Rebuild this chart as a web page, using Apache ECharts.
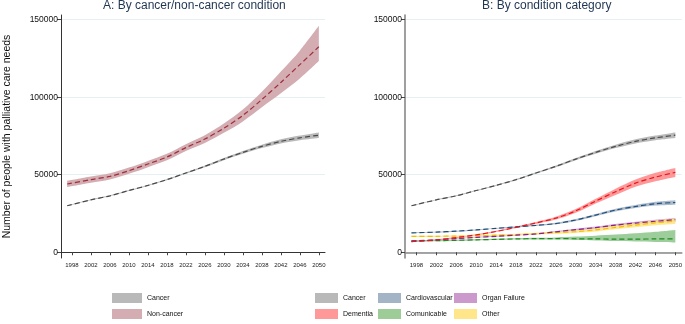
<!DOCTYPE html>
<html>
<head>
<meta charset="utf-8">
<script src="https://cdn.jsdelivr.net/npm/echarts@6/dist/echarts.min.js"></script>
<style>
  html, body { margin: 0; padding: 0; background: #fff; }
  #chart { width: 685px; height: 324px; }
</style>
</head>
<body>
<div id="chart"></div>
<script>
const years = [1997, 2002, 2006, 2010, 2014, 2018, 2022, 2026, 2030, 2034, 2038, 2042, 2046, 2050]
const tickYears = [1998, 2002, 2006, 2010, 2014, 2018, 2022, 2026, 2030, 2034, 2038, 2042, 2046, 2050]
const tickValues = [0, 50000, 100000, 150000]

const cancerMid = [30000, 33800, 36400, 39800, 43100, 46800, 51100, 55400, 60100, 64400, 68300, 71500, 73800, 75500]
const cancerLo  = [29700, 33500, 36100, 39500, 42800, 46400, 50600, 54800, 59400, 63500, 67200, 70200, 72300, 73700]
const cancerHi  = [30300, 34100, 36700, 40100, 43400, 47200, 51600, 56000, 60800, 65300, 69400, 72800, 75300, 77300]

const nonCancerMid = [44000, 46800, 48900, 52600, 56900, 61400, 67500, 73000, 80000, 88200, 98500, 109500, 121000, 132500]
const nonCancerLo  = [42000, 44800, 46900, 50600, 54900, 59300, 65300, 70500, 77000, 84400, 93500, 102500, 112000, 123300]
const nonCancerHi  = [46000, 48800, 50900, 54600, 58900, 63500, 69700, 75500, 83000, 92000, 103500, 116500, 130000, 146000]

const dementiaMid = [6900, 8000, 9500, 11200, 13400, 16100, 18900, 22000, 26700, 33000, 39000, 44600, 48500, 51500]
const dementiaLo  = [6500, 7600, 9100, 10800, 13000, 15600, 18300, 21100, 25500, 31500, 37000, 42300, 45800, 48600]
const dementiaHi  = [7300, 8400, 9900, 11600, 13800, 16600, 19500, 22900, 27900, 34500, 41000, 46900, 51200, 54400]

const cardioMid = [12500, 13000, 13600, 14400, 15400, 16400, 17300, 18500, 20800, 24000, 27200, 29500, 31300, 32100]
const cardioLo  = [12200, 12700, 13300, 14100, 15100, 16000, 16900, 18000, 20200, 23300, 26300, 28500, 30100, 30700]
const cardioHi  = [12800, 13300, 13900, 14700, 15700, 16800, 17700, 19000, 21400, 24700, 28100, 30500, 32500, 33500]

const commMid = [7300, 7500, 7700, 8000, 8300, 8600, 8800, 8800, 8700, 8600, 8500, 8500, 8600, 8700]
const commLo  = [6900, 7100, 7300, 7600, 7900, 8200, 8300, 8200, 7900, 7600, 7200, 6900, 6600, 6300]
const commHi  = [7700, 7900, 8100, 8400, 8700, 9000, 9300, 9600, 10100, 10700, 11400, 12200, 13200, 14400]

const organMid = [7200, 8000, 8800, 9600, 10300, 11000, 11800, 13200, 14600, 15900, 17500, 18800, 20000, 21000]
const organLo  = [6900, 7700, 8500, 9300, 10000, 10700, 11400, 12700, 14000, 15200, 16700, 17900, 19000, 19900]
const organHi  = [7500, 8300, 9100, 9900, 10600, 11300, 12200, 13700, 15200, 16600, 18300, 19700, 21000, 22100]

const otherMid = [10200, 10300, 10400, 10600, 11000, 11400, 12000, 12600, 13300, 14400, 16000, 17500, 19000, 20000]
const otherLo  = [9800, 9900, 10000, 10200, 10500, 10900, 11400, 11900, 12500, 13400, 14800, 16100, 17400, 18200]
const otherHi  = [10600, 10700, 10800, 11000, 11500, 11900, 12600, 13300, 14100, 15400, 17200, 18900, 20600, 21800]

const FONT = 'Liberation Sans, Arial, sans-serif'
const SMOOTH = 0.3

function pairs(vals) {
  return vals.map((v, i) => [years[i], v])
}

// same bezier rule as the line series' smooth option, so band edges follow the dashed lines
function smoothD(pts, start) {
  const n = pts.length
  const cpIn = [], cpOut = []
  for (let i = 0; i < n; i++) {
    const p = pts[i]
    if (i === 0 || i === n - 1) { cpIn[i] = p; cpOut[i] = p; continue }
    const prev = pts[i - 1], next = pts[i + 1]
    const vx = next[0] - prev[0], vy = next[1] - prev[1]
    const l0 = Math.hypot(p[0] - prev[0], p[1] - prev[1])
    const l1 = Math.hypot(next[0] - p[0], next[1] - p[1])
    const r = l1 / (l0 + l1)
    cpOut[i] = [p[0] + vx * SMOOTH * r, p[1] + vy * SMOOTH * r]
    cpIn[i] = [p[0] - vx * SMOOTH * (1 - r), p[1] - vy * SMOOTH * (1 - r)]
  }
  const xy = q => q[0].toFixed(2) + ' ' + q[1].toFixed(2)
  let d = start + ' ' + xy(pts[0])
  for (let i = 0; i < n - 1; i++) {
    d += ' C ' + xy(cpOut[i]) + ' ' + xy(cpIn[i + 1]) + ' ' + xy(pts[i + 1])
  }
  return d
}

function band(name, grid, lo, hi, color, opacity) {
  return {
    name: name, type: 'custom', xAxisIndex: grid, yAxisIndex: grid, silent: true,
    data: [[years[0], lo[0]]],
    renderItem: function (params, api) {
      const upper = years.map((y, i) => api.coord([y, hi[i]]))
      const lower = years.map((y, i) => api.coord([y, lo[i]])).reverse()
      return {
        type: 'path',
        shape: {pathData: smoothD(upper, 'M') + ' ' + smoothD(lower, 'L') + ' Z'},
        style: {fill: color, opacity: opacity}
      }
    }
  }
}

function midLine(name, grid, mid, color) {
  return {
    name: name + ' estimate', type: 'line', xAxisIndex: grid, yAxisIndex: grid,
    data: pairs(mid), symbol: 'none', smooth: SMOOTH, silent: true,
    lineStyle: {color: color, width: 1.2, type: [5, 3]}
  }
}

function xAxisFor(grid, lineColor, lineWidth) {
  return {
    type: 'value', gridIndex: grid, min: 1995.7, max: 2051.3,
    axisLine: {show: true, lineStyle: {color: lineColor, width: lineWidth}},
    axisTick: {show: true, customValues: tickYears, length: 3, lineStyle: {color: '#444'}},
    axisLabel: {customValues: tickYears, formatter: v => String(v), fontSize: 6, color: '#222', margin: 4, fontFamily: FONT},
    splitLine: {show: false}
  }
}

function yAxisFor(grid, lineColor, lineWidth) {
  return {
    type: 'value', gridIndex: grid, min: -3700, max: 153000,
    axisLine: {show: true, lineStyle: {color: lineColor, width: lineWidth}},
    axisTick: {show: true, customValues: tickValues, length: 4, lineStyle: {color: '#444'}},
    axisLabel: {customValues: tickValues, formatter: v => String(v), fontSize: 8.5, color: '#111', margin: 3, fontFamily: FONT},
    splitLine: {show: true, lineStyle: {color: '#e6eff2', width: 1}}
  }
}

const yA = yAxisFor(0, '#333', 1)
yA.name = 'Number of people with palliative care needs'
yA.nameLocation = 'middle'
yA.nameGap = 48
yA.nameRotate = 90
yA.nameTextStyle = {fontSize: 10.5, color: '#111', fontFamily: FONT}

function legendCol(left, items, w) {
  return {
    orient: 'vertical', left: left, top: 293, padding: 0, itemWidth: w, itemHeight: 10, itemGap: 6,
    selectedMode: false,
    textStyle: {fontSize: 7, color: '#111', fontFamily: FONT},
    data: items.map(it => ({name: it[0], icon: 'rect', itemStyle: {color: it[1]}}))
  }
}

const option = {
  animation: false,
  backgroundColor: '#fff',
  graphic: [
    {type: 'text', left: 193 - 90, top: 0, style: {text: 'A: By cancer/non-cancer condition', fontSize: 12, fill: '#1e3552', fontFamily: FONT}},
    {type: 'text', left: 545 - 63, top: 0, style: {text: 'B: By condition category', fontSize: 12, fill: '#1e3552', fontFamily: FONT}}
  ],
  grid: [
    {left: 61, width: 264, top: 15, height: 243},
    {left: 405, width: 280, top: 15, height: 243}
  ],
  xAxis: [xAxisFor(0, '#333', 1), xAxisFor(1, '#888', 1.6)],
  yAxis: [yA, yAxisFor(1, '#888', 1.6)],
  legend: [
    legendCol(112, [['Cancer', '#b9b9b9'], ['Non-cancer', '#d3adb2']], 30),
    legendCol(315, [['Cancer', '#b9b9b9'], ['Dementia', '#ff9999']], 23),
    legendCol(378, [['Cardiovascular', '#a3b4c6'], ['Comunicable', '#9dcc99']], 23),
    legendCol(454, [['Organ Failure', '#cc99cc'], ['Other', '#ffe68a']], 23)
  ],
  series: [
    band('Cancer', 0, cancerLo, cancerHi, '#b9b9b9', 1),
    band('Non-cancer', 0, nonCancerLo, nonCancerHi, '#d3adb2', 1),
    midLine('Cancer', 0, cancerMid, '#4a4a4a'),
    midLine('Non-cancer', 0, nonCancerMid, '#9e2f3c'),

    band('Cancer', 1, cancerLo, cancerHi, '#b9b9b9', 1),
    band('Dementia', 1, dementiaLo, dementiaHi, '#ff8080', 0.8),
    band('Cardiovascular', 1, cardioLo, cardioHi, '#a3b4c6', 0.9),
    band('Comunicable', 1, commLo, commHi, '#8cc488', 0.85),
    band('Organ Failure', 1, organLo, organHi, '#cc99cc', 0.8),
    band('Other', 1, otherLo, otherHi, '#ffe27a', 0.8),
    midLine('Cancer', 1, cancerMid, '#4a4a4a'),
    midLine('Comunicable', 1, commMid, '#1f8a1f'),
    midLine('Other', 1, otherMid, '#f0c000'),
    midLine('Organ Failure', 1, organMid, '#8a1f8a'),
    midLine('Cardiovascular', 1, cardioMid, '#1f4d7a'),
    midLine('Dementia', 1, dementiaMid, '#e8141c')
  ]
}

const chart = echarts.init(document.getElementById('chart'))
chart.setOption(option)
</script>
</body>
</html>
